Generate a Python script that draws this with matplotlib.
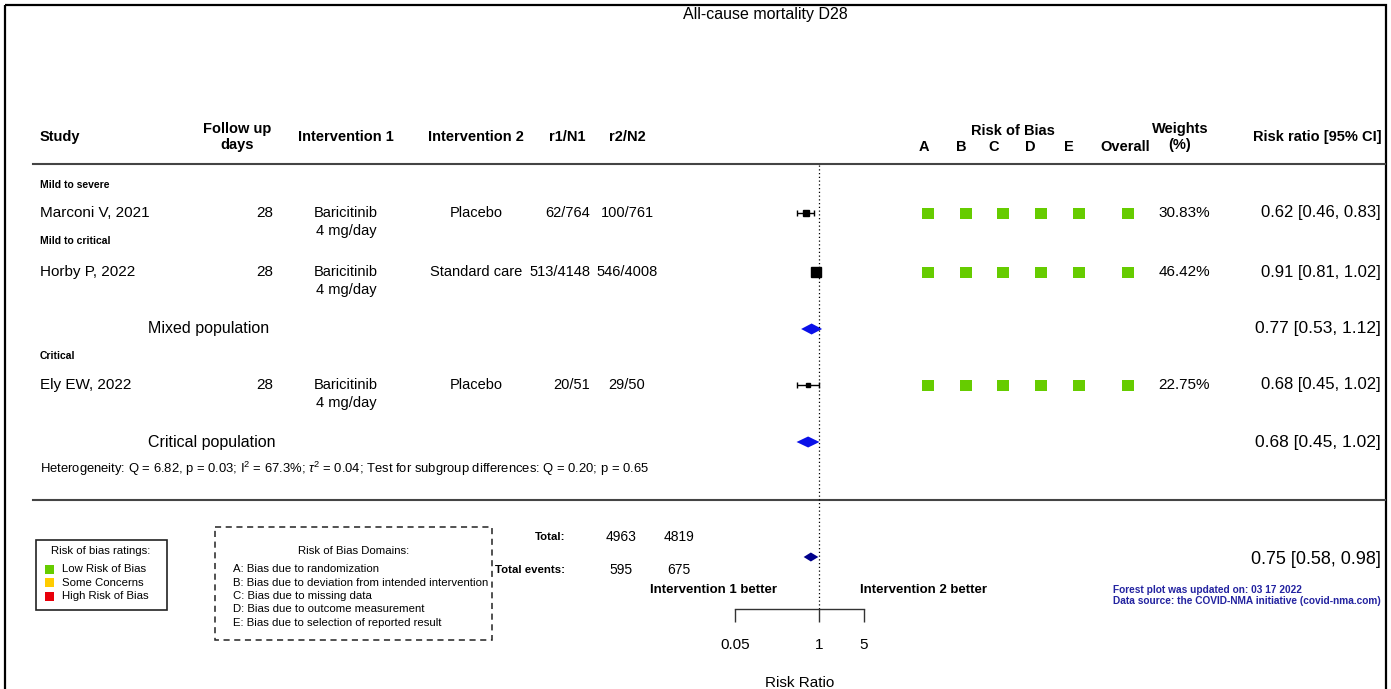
import matplotlib
matplotlib.use("Agg")
import matplotlib.pyplot as plt
from matplotlib.patches import Rectangle
from matplotlib.ticker import FixedLocator, FixedFormatter, NullLocator

plt.rcParams['font.family'] = ['Liberation Sans', 'DejaVu Sans']

# ---------------- data ----------------
title = "All-cause mortality D28"
subgroups = ["Mild to severe", "Mild to critical", "Critical"]
studies = ["Marconi V, 2021", "Horby P, 2022", "Ely EW, 2022"]
followup = ["28", "28", "28"]
intervention1 = ["Baricitinib\n4 mg/day", "Baricitinib\n4 mg/day", "Baricitinib\n4 mg/day"]
intervention2 = ["Placebo", "Standard care", "Placebo"]
r1n1 = ["62/764", "513/4148", "20/51"]
r2n2 = ["100/761", "546/4008", "29/50"]
rr = [0.62, 0.91, 0.68]
rr_lo = [0.46, 0.81, 0.45]
rr_hi = [0.83, 1.02, 1.02]
weights = [30.83, 46.42, 22.75]
rob_domains = ["A", "B", "C", "D", "E", "Overall"]
rob = [["low"] * 6, ["low"] * 6, ["low"] * 6]
pooled_labels = ["Mixed population", "Critical population"]
pooled_rr = [0.77, 0.68]
pooled_lo = [0.53, 0.45]
pooled_hi = [1.12, 1.02]
overall_rr = [0.75]
overall_lo = [0.58]
overall_hi = [0.98]
totals = [4963, 4819]
total_events = [595, 675]
heterogeneity = ("Heterogeneity: Q = 6.82, p = 0.03; I$^{2}$ = 67.3%; $\\tau^{2}$ = 0.04; "
                 "Test for subgroup differences: Q = 0.20; p = 0.65")
axis_ticks = [0.05, 1, 5]
axis_ticklabels = ["0.05", "1", "5"]
rob_legend = ["Low Risk of Bias", "Some Concerns", "High Risk of Bias"]
domain_lines = ["A: Bias due to randomization",
                "B: Bias due to deviation from intended intervention",
                "C: Bias due to missing data",
                "D: Bias due to outcome measurement",
                "E: Bias due to selection of reported result"]

rob_colors = {"low": "#66CC00", "some": "#FFCC00", "high": "#E8000B"}

plt.rcParams['mathtext.fontset'] = 'custom'
plt.rcParams['mathtext.rm'] = 'Liberation Sans'
plt.rcParams['mathtext.it'] = 'Liberation Sans:italic'

# ---------------- figure ----------------
W, H = 1391, 689
fig = plt.figure(figsize=(W / 100, H / 100), dpi=100)
ax = fig.add_axes([0, 0, 1, 1])
ax.set_xlim(0, W)
ax.set_ylim(H, 0)
ax.axis("off")

# frame
ax.add_patch(Rectangle((5, 5), 1381, 700, fill=False, ec="black", lw=1.6))

ax.text(765, 14, title, ha="center", va="center", fontsize=11.5)

# header
hb = dict(fontsize=10.5, fontweight="bold", va="center")
ax.text(40, 137, "Study", ha="left", **hb)
ax.text(237, 137, "Follow up\ndays", ha="center", linespacing=1.15, **hb)
ax.text(346, 137, "Intervention 1", ha="center", **hb)
ax.text(476, 137, "Intervention 2", ha="center", **hb)
ax.text(567, 137, "r1/N1", ha="center", **hb)
ax.text(627, 137, "r2/N2", ha="center", **hb)
ax.text(1013, 131, "Risk of Bias", ha="center", **hb)
rob_x = [928, 966, 1003, 1041, 1079, 1128]
letter_x = [924, 961, 994, 1030, 1069, 1125]
for lx, d in zip(letter_x, rob_domains):
    ax.text(lx, 147, d, ha="center", **hb)
ax.text(1180, 137, "Weights\n(%)", ha="center", linespacing=1.15, **hb)
ax.text(1317, 137, "Risk ratio [95% CI]", ha="center", **hb)
ax.plot([33, 1385], [164, 164], color="#444444", lw=1.5)

# rows
sub_y = [185, 241, 356]
row_y = [213, 272, 385]
pooled_y = [329, 442]
body = dict(fontsize=11, va="center")
cols = dict(fontsize=10.5, va="center")
for i in range(3):
    ax.text(40, sub_y[i], subgroups[i], ha="left", fontsize=7.5, fontweight="bold", va="center")
    y = row_y[i]
    ax.text(40, y, studies[i], ha="left", **body)
    ax.text(265, y, followup[i], ha="center", **body)
    l1, l2 = intervention1[i].split("\n")
    ax.text(346, y, l1, ha="center", **cols)
    ax.text(346, y + 18, l2, ha="center", **cols)
    ax.text(476, y, intervention2[i], ha="center", **cols)
    ax.text(590, y, r1n1[i], ha="right", **cols)
    ax.text(627, y, r2n2[i], ha="center", **cols)
    for j, c in enumerate(rob[i]):
        ax.add_patch(Rectangle((rob_x[j] - 6, y - 5.5), 12, 11, color=rob_colors[c], lw=0))
    ax.text(1184, y, f"{weights[i]:.2f}%", ha="center", **body)
    ax.text(1381, y, f"{rr[i]:.2f} [{rr_lo[i]:.2f}, {rr_hi[i]:.2f}]", ha="right",
            fontsize=12, va="center")

for k in range(2):
    ax.text(148, pooled_y[k], pooled_labels[k], ha="left", fontsize=11.5, va="center")
    ax.text(1381, pooled_y[k], f"{pooled_rr[k]:.2f} [{pooled_lo[k]:.2f}, {pooled_hi[k]:.2f}]",
            ha="right", fontsize=12.5, va="center")

ax.text(40, 469, heterogeneity, ha="left", va="center", fontsize=9.4)
ax.plot([33, 1385], [500, 500], color="#444444", lw=1.5)

# totals
ax.text(565, 537, "Total:", ha="right", fontsize=8.2, fontweight="bold", va="center")
ax.text(565, 570, "Total events:", ha="right", fontsize=8.2, fontweight="bold", va="center")
ax.text(621, 537, f"{totals[0]}", ha="center", fontsize=10, va="center")
ax.text(679, 537, f"{totals[1]}", ha="center", fontsize=10, va="center")
ax.text(621, 570, f"{total_events[0]}", ha="center", fontsize=10, va="center")
ax.text(679, 570, f"{total_events[1]}", ha="center", fontsize=10, va="center")
ax.text(713, 590, "Intervention 1 better", ha="center", fontsize=9.5, fontweight="bold", va="center")
ax.text(924, 590, "Intervention 2 better", ha="center", fontsize=9.5, fontweight="bold", va="center")
ax.text(1381, 560, f"{overall_rr[0]:.2f} [{overall_lo[0]:.2f}, {overall_hi[0]:.2f}]",
        ha="right", fontsize=13, va="center")

# footer notes
ax.text(1113, 590, "Forest plot was updated on: 03 17 2022", ha="left", va="center",
        fontsize=7.3, fontweight="bold", color="#2323A0")
ax.text(1113, 601, "Data source: the COVID-NMA initiative (covid-nma.com)", ha="left", va="center",
        fontsize=7.3, fontweight="bold", color="#2323A0")

# risk of bias ratings legend
ax.add_patch(Rectangle((36, 540), 131, 70, fill=False, ec="#222222", lw=1.2))
ax.text(101, 551, "Risk of bias ratings:", ha="center", va="center", fontsize=8.2)
leg_y = [569, 582.5, 596]
for lab, c, yy in zip(rob_legend, ["low", "some", "high"], leg_y):
    ax.add_patch(Rectangle((45, yy - 4.5), 9, 9, color=rob_colors[c], lw=0))
    ax.text(62, yy, lab, ha="left", va="center", fontsize=8.2)

# domains legend
ax.add_patch(Rectangle((215, 527), 277, 113, fill=False, ec="#222222", lw=1.1, ls=(0, (4, 3))))
ax.text(354, 551, "Risk of Bias Domains:", ha="center", va="center", fontsize=8.2)
for k, line in enumerate(domain_lines):
    ax.text(233, 569 + k * 13.5, line, ha="left", va="center", fontsize=8.2)

# ---------------- forest (log scale) ----------------
x_lo_px, x_hi_px = 735, 864
axf = fig.add_axes([x_lo_px / W, 0, (x_hi_px - x_lo_px) / W, 1])
axf.set_xscale("log")
axf.set_xlim(axis_ticks[0], axis_ticks[-1])
axf.set_ylim(H, 0)
axf.axis("off")
axf.patch.set_alpha(0)

axf.plot([1, 1], [165, 609], ls=(0, (1, 2)), color="black", lw=0.9)

wmax = max(weights)
for i in range(3):
    y = row_y[i]
    side_px = 10 * (weights[i] / wmax) ** 1.6
    axf.errorbar([rr[i]], [y], xerr=[[rr[i] - rr_lo[i]], [rr_hi[i] - rr[i]]], fmt="none",
                 ecolor="black", elinewidth=1.0, capsize=2.5, capthick=1.0)
    axf.plot([rr[i]], [y], marker="s", color="black", markersize=side_px / 1.389, ls="none")


def diamond(a, lo, mid, hi, y, h, color):
    a.fill([lo, mid, hi, mid], [y, y - h, y, y + h], color=color, lw=0)


for k in range(2):
    diamond(axf, pooled_lo[k], pooled_rr[k], pooled_hi[k], pooled_y[k], 5.5, "#0A10E8")
diamond(axf, overall_lo[0], overall_rr[0], overall_hi[0], 557, 4.5, "#00008B")

# bottom axis
axx = fig.add_axes([x_lo_px / W, (H - 609) / H, (x_hi_px - x_lo_px) / W, 0.001])
axx.set_xscale("log")
axx.set_xlim(axis_ticks[0], axis_ticks[-1])
axx.patch.set_alpha(0)
for s in ["top", "left", "right"]:
    axx.spines[s].set_visible(False)
axx.spines["bottom"].set_color("#333333")
axx.spines["bottom"].set_linewidth(1.0)
axx.set_yticks([])
axx.xaxis.set_major_locator(FixedLocator(axis_ticks))
axx.xaxis.set_major_formatter(FixedFormatter(axis_ticklabels))
axx.xaxis.set_minor_locator(NullLocator())
axx.tick_params(axis="x", direction="out", length=9, width=1.0, color="#333333",
                labelsize=11, pad=12)
axx.set_xlabel("Risk Ratio", fontsize=11, labelpad=17)

fig.savefig("out.png", dpi=100)
